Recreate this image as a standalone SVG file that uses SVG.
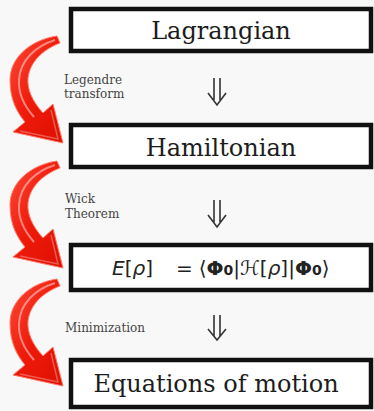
<svg xmlns="http://www.w3.org/2000/svg" width="374" height="411" viewBox="0 0 374 411">
<style>
.box{fill:#ffffff;stroke:#111111;stroke-width:4.5}
.title{font-family:"DejaVu Serif","Liberation Serif",serif;font-size:24px;fill:#1c1c1c;text-anchor:middle}
.lbl{font-family:"DejaVu Serif","Liberation Serif",serif;font-size:12px;fill:#444444}
.math{font-family:"DejaVu Sans","Liberation Sans",sans-serif;font-size:20px;fill:#222222}
.dbl{fill:none;stroke:#333333;stroke-width:1.6;stroke-linejoin:miter}
</style>
<defs>
<linearGradient id="rg" x1="0" y1="0" x2="1" y2="1">
<stop offset="0" stop-color="#ff4a38"/>
<stop offset="0.5" stop-color="#ee1a0a"/>
<stop offset="1" stop-color="#dd1000"/>
</linearGradient>
<g id="redArrow">
<path d="M57,36 C30,40 10,58 10,80 C10,100 17,112 25,122 L13,132 L63,143 L53,104 L43,113 C32,101 27,89 28,78 C30,62 42,50 60,43 Z" fill="url(#rg)" stroke="#ff7a6a" stroke-width="1"/>
<path d="M55,40 C36,46 20,60 19,80 C18,96 26,108 34,117" fill="none" stroke="#ffffff" stroke-opacity="0.45" stroke-width="2"/>
<path d="M20,131 L58,139 L51,110" fill="none" stroke="#ffffff" stroke-opacity="0.3" stroke-width="1.5"/>
</g>
</defs>
<rect width="374" height="411" fill="#f8f8f8"/>
<g id="curved-arrows">
<use href="#redArrow"/>
<use href="#redArrow" transform="translate(0,125)"/>
<use href="#redArrow" transform="translate(0,243)"/>
</g>
<g id="connectors">
<path class="dbl" d="M214,78 V100 M220,78 V100 M208,93 L217,105 L226,93"/>
<path class="dbl" d="M214,200 V222 M220,200 V222 M208,215 L217,227 L226,215"/>
<path class="dbl" d="M214,315 V336 M220,315 V336 M208,329 L217,340 L226,329"/>
</g>
<g id="lagrangian">
<rect class="box" x="71" y="9" width="300" height="42"/>
<text class="title" x="221" y="39">Lagrangian</text>
</g>
<g id="hamiltonian">
<rect class="box" x="71" y="125" width="300" height="42"/>
<text class="title" x="221" y="156">Hamiltonian</text>
</g>
<g id="energy">
<rect class="box" x="71" y="245" width="300" height="45"/>
<text class="math" x="112" y="275"><tspan font-style="italic">E</tspan>[<tspan font-style="italic">ρ</tspan>]</text>
<text class="math" x="176" y="275">=<tspan dx="6">⟨</tspan><tspan font-weight="bold">Φ</tspan><tspan font-weight="bold" font-size="14">0</tspan>|ℋ[<tspan font-style="italic">ρ</tspan>]|<tspan font-weight="bold">Φ</tspan><tspan font-weight="bold" font-size="14">0</tspan>⟩</text>
</g>
<g id="equations">
<rect class="box" x="71" y="360" width="300" height="47"/>
<text class="title" x="216" y="392" font-size="23">Equations of motion</text>
</g>
<g id="labels">
<text class="lbl" x="64" y="84">Legendre</text>
<text class="lbl" x="64" y="98">transform</text>
<text class="lbl" x="65" y="203">Wick</text>
<text class="lbl" x="65" y="218">Theorem</text>
<text class="lbl" x="65" y="332">Minimization</text>
</g>
</svg>
